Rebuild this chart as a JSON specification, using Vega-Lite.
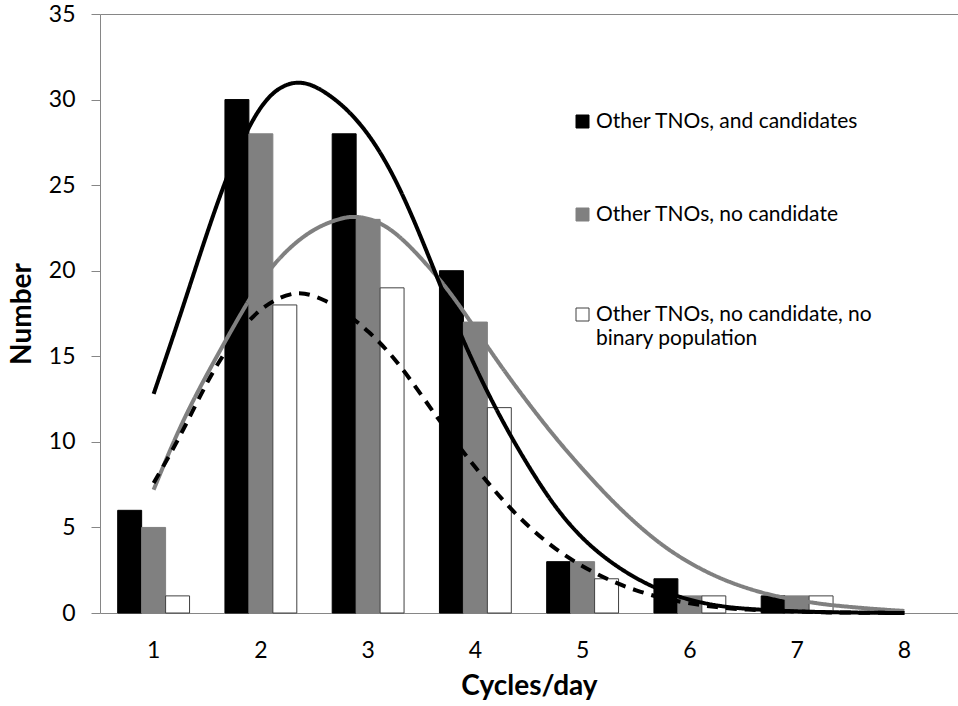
{
  "$schema": "https://vega.github.io/schema/vega-lite/v6.json",
  "width": 858,
  "height": 599,
  "autosize": {"type": "none"},
  "padding": {"left": 100, "top": 14, "right": 0, "bottom": 93},
  "background": "white",
  "config": {
    "view": {"stroke": null},
    "font": "Lato",
    "axis": {"labelFont": "Lato", "titleFont": "Lato", "labelColor": "#000000", "titleColor": "#000000", "grid": false}
  },
  "datasets": {
    "bars": [
      {"cycles": 1, "series": "Other TNOs, and candidates", "number": 6},
      {"cycles": 1, "series": "Other TNOs, no candidate", "number": 5},
      {"cycles": 1, "series": "Other TNOs, no candidate, no binary population", "number": 1},
      {"cycles": 2, "series": "Other TNOs, and candidates", "number": 30},
      {"cycles": 2, "series": "Other TNOs, no candidate", "number": 28},
      {"cycles": 2, "series": "Other TNOs, no candidate, no binary population", "number": 18},
      {"cycles": 3, "series": "Other TNOs, and candidates", "number": 28},
      {"cycles": 3, "series": "Other TNOs, no candidate", "number": 23},
      {"cycles": 3, "series": "Other TNOs, no candidate, no binary population", "number": 19},
      {"cycles": 4, "series": "Other TNOs, and candidates", "number": 20},
      {"cycles": 4, "series": "Other TNOs, no candidate", "number": 17},
      {"cycles": 4, "series": "Other TNOs, no candidate, no binary population", "number": 12},
      {"cycles": 5, "series": "Other TNOs, and candidates", "number": 3},
      {"cycles": 5, "series": "Other TNOs, no candidate", "number": 3},
      {"cycles": 5, "series": "Other TNOs, no candidate, no binary population", "number": 2},
      {"cycles": 6, "series": "Other TNOs, and candidates", "number": 2},
      {"cycles": 6, "series": "Other TNOs, no candidate", "number": 1},
      {"cycles": 6, "series": "Other TNOs, no candidate, no binary population", "number": 1},
      {"cycles": 7, "series": "Other TNOs, and candidates", "number": 1},
      {"cycles": 7, "series": "Other TNOs, no candidate", "number": 1},
      {"cycles": 7, "series": "Other TNOs, no candidate, no binary population", "number": 1}
    ],
    "fits": [
      {"curve": "gray", "cyc": 1.0, "number": 7.2},
      {"curve": "gray", "cyc": 1.25, "number": 11.0},
      {"curve": "gray", "cyc": 1.5, "number": 14.0},
      {"curve": "gray", "cyc": 1.75, "number": 16.8},
      {"curve": "gray", "cyc": 2.0, "number": 19.5},
      {"curve": "gray", "cyc": 2.25, "number": 21.3},
      {"curve": "gray", "cyc": 2.5, "number": 22.5},
      {"curve": "gray", "cyc": 2.75, "number": 23.1},
      {"curve": "gray", "cyc": 2.9, "number": 23.2},
      {"curve": "gray", "cyc": 3.1, "number": 22.9},
      {"curve": "gray", "cyc": 3.3, "number": 22.0},
      {"curve": "gray", "cyc": 3.5, "number": 20.7},
      {"curve": "gray", "cyc": 3.75, "number": 18.9},
      {"curve": "gray", "cyc": 4.0, "number": 16.6},
      {"curve": "gray", "cyc": 4.25, "number": 14.3},
      {"curve": "gray", "cyc": 4.5, "number": 12.2},
      {"curve": "gray", "cyc": 4.75, "number": 10.2},
      {"curve": "gray", "cyc": 5.0, "number": 8.4},
      {"curve": "gray", "cyc": 5.25, "number": 6.7},
      {"curve": "gray", "cyc": 5.5, "number": 5.2},
      {"curve": "gray", "cyc": 5.75, "number": 3.9},
      {"curve": "gray", "cyc": 6.0, "number": 2.9},
      {"curve": "gray", "cyc": 6.25, "number": 2.1},
      {"curve": "gray", "cyc": 6.5, "number": 1.5},
      {"curve": "gray", "cyc": 6.75, "number": 1.05},
      {"curve": "gray", "cyc": 7.0, "number": 0.75},
      {"curve": "gray", "cyc": 7.25, "number": 0.5},
      {"curve": "gray", "cyc": 7.5, "number": 0.35},
      {"curve": "gray", "cyc": 7.75, "number": 0.22},
      {"curve": "gray", "cyc": 8.0, "number": 0.12},
      {"curve": "dashed", "cyc": 1.0, "number": 7.6},
      {"curve": "dashed", "cyc": 1.25, "number": 10.3},
      {"curve": "dashed", "cyc": 1.5, "number": 13.6},
      {"curve": "dashed", "cyc": 1.75, "number": 16.1},
      {"curve": "dashed", "cyc": 2.0, "number": 17.9},
      {"curve": "dashed", "cyc": 2.25, "number": 18.65},
      {"curve": "dashed", "cyc": 2.4, "number": 18.75},
      {"curve": "dashed", "cyc": 2.6, "number": 18.3},
      {"curve": "dashed", "cyc": 2.8, "number": 17.5},
      {"curve": "dashed", "cyc": 3.0, "number": 16.5},
      {"curve": "dashed", "cyc": 3.25, "number": 14.9},
      {"curve": "dashed", "cyc": 3.5, "number": 12.7},
      {"curve": "dashed", "cyc": 3.75, "number": 10.5},
      {"curve": "dashed", "cyc": 4.0, "number": 8.5},
      {"curve": "dashed", "cyc": 4.25, "number": 6.6},
      {"curve": "dashed", "cyc": 4.5, "number": 5.0},
      {"curve": "dashed", "cyc": 4.75, "number": 3.7},
      {"curve": "dashed", "cyc": 5.0, "number": 2.7},
      {"curve": "dashed", "cyc": 5.25, "number": 1.9},
      {"curve": "dashed", "cyc": 5.5, "number": 1.3},
      {"curve": "dashed", "cyc": 5.75, "number": 0.85},
      {"curve": "dashed", "cyc": 6.0, "number": 0.55},
      {"curve": "dashed", "cyc": 6.25, "number": 0.33},
      {"curve": "dashed", "cyc": 6.5, "number": 0.2},
      {"curve": "dashed", "cyc": 7.0, "number": 0.06},
      {"curve": "dashed", "cyc": 7.5, "number": 0.02},
      {"curve": "dashed", "cyc": 8.0, "number": 0.0},
      {"curve": "black", "cyc": 1.0, "number": 12.8},
      {"curve": "black", "cyc": 1.25, "number": 17.4},
      {"curve": "black", "cyc": 1.5, "number": 22.3},
      {"curve": "black", "cyc": 1.75, "number": 26.7},
      {"curve": "black", "cyc": 2.0, "number": 29.8},
      {"curve": "black", "cyc": 2.2, "number": 30.85},
      {"curve": "black", "cyc": 2.35, "number": 31.05},
      {"curve": "black", "cyc": 2.5, "number": 30.85},
      {"curve": "black", "cyc": 2.75, "number": 29.8},
      {"curve": "black", "cyc": 3.0, "number": 28.1},
      {"curve": "black", "cyc": 3.25, "number": 25.5},
      {"curve": "black", "cyc": 3.5, "number": 21.9},
      {"curve": "black", "cyc": 3.75, "number": 17.9},
      {"curve": "black", "cyc": 4.0, "number": 14.3},
      {"curve": "black", "cyc": 4.25, "number": 11.2},
      {"curve": "black", "cyc": 4.5, "number": 8.5},
      {"curve": "black", "cyc": 4.75, "number": 6.1},
      {"curve": "black", "cyc": 5.0, "number": 4.3},
      {"curve": "black", "cyc": 5.25, "number": 3.0},
      {"curve": "black", "cyc": 5.5, "number": 2.0},
      {"curve": "black", "cyc": 5.75, "number": 1.25},
      {"curve": "black", "cyc": 6.0, "number": 0.75},
      {"curve": "black", "cyc": 6.25, "number": 0.42},
      {"curve": "black", "cyc": 6.5, "number": 0.24},
      {"curve": "black", "cyc": 7.0, "number": 0.08},
      {"curve": "black", "cyc": 7.5, "number": 0.02},
      {"curve": "black", "cyc": 8.0, "number": 0.0}
    ]
  },
  "layer": [
    {
      "data": {"name": "bars"},
      "mark": {"type": "bar", "strokeWidth": 1},
      "encoding": {
        "x": {
          "field": "cycles", "type": "ordinal",
          "scale": {"domain": [1, 2, 3, 4, 5, 6, 7, 8], "paddingInner": 0.33, "paddingOuter": 0.165},
          "axis": {
            "labelAngle": 0, "labelFontSize": 23, "labelPadding": 26,
            "ticks": false, "tickSize": 0,
            "domainColor": "#868686", "domainWidth": 1,
            "title": "Cycles/day", "titleFontSize": 28, "titleFontWeight": "bold",
            "titleBaseline": "alphabetic", "titleY": 81
          }
        },
        "xOffset": {
          "field": "series", "type": "nominal",
          "scale": {"domain": ["Other TNOs, and candidates", "Other TNOs, no candidate", "Other TNOs, no candidate, no binary population"], "paddingInner": 0, "paddingOuter": 0}
        },
        "y": {
          "field": "number", "type": "quantitative",
          "scale": {"domain": [0, 35], "nice": false},
          "axis": {
            "values": [0, 5, 10, 15, 20, 25, 30, 35],
            "tickSize": 9, "tickColor": "#868686", "domainColor": "#868686", "domainWidth": 1,
            "labelFontSize": 23, "labelPadding": 16,
            "title": "Number", "titleFontSize": 28, "titleFontWeight": "bold",
            "titleBaseline": "middle", "titleX": -78, "titleY": 299.5
          }
        },
        "fill": {
          "field": "series", "type": "nominal",
          "scale": {"domain": ["Other TNOs, and candidates", "Other TNOs, no candidate", "Other TNOs, no candidate, no binary population"], "range": ["#000000", "#808080", "#ffffff"]},
          "legend": {
            "orient": "none", "legendX": 472, "legendY": 97, "direction": "vertical",
            "title": null, "padding": 0,
            "symbolType": "square", "symbolSize": 169, "symbolStrokeWidth": 1,
            "labelFont": "Lato", "labelFontSize": 21, "labelColor": "#000000", "labelOffset": 3, "labelLimit": 400,
            "rowPadding": 71,
            "labelExpr": "datum.value == 'Other TNOs, no candidate, no binary population' ? ['Other TNOs, no candidate, no', 'binary population'] : datum.value == 'Other TNOs, no candidate' ? ['Other TNOs, no candidate', ' '] : datum.label",
            "encode": {"labels": {"update": {"baseline": {"value": "top"}, "dy": {"value": -11}, "lineHeight": {"signal": "datum.value == 'Other TNOs, no candidate' ? 7 : 24"}}}}
          }
        },
        "stroke": {
          "field": "series", "type": "nominal",
          "scale": {"domain": ["Other TNOs, and candidates", "Other TNOs, no candidate", "Other TNOs, no candidate, no binary population"], "range": ["#000000", "#808080", "#404040"]},
          "legend": {
            "orient": "none", "legendX": 472, "legendY": 97, "direction": "vertical",
            "title": null, "padding": 0,
            "symbolType": "square", "symbolSize": 169, "symbolStrokeWidth": 1,
            "labelFont": "Lato", "labelFontSize": 21, "labelColor": "#000000", "labelOffset": 3, "labelLimit": 400,
            "rowPadding": 71,
            "labelExpr": "datum.value == 'Other TNOs, no candidate, no binary population' ? ['Other TNOs, no candidate, no', 'binary population'] : datum.value == 'Other TNOs, no candidate' ? ['Other TNOs, no candidate', ' '] : datum.label",
            "encode": {"labels": {"update": {"baseline": {"value": "top"}, "dy": {"value": -11}, "lineHeight": {"signal": "datum.value == 'Other TNOs, no candidate' ? 7 : 24"}}}}
          }
        }
      }
    },
    {
      "data": {"name": "fits"},
      "mark": {"type": "line", "interpolate": "basis", "strokeWidth": 4},
      "encoding": {
        "x": {
          "field": "cyc", "type": "quantitative",
          "scale": {"domain": [0.5, 8.5], "nice": false, "zero": false},
          "axis": {"orient": "top", "labels": false, "ticks": false, "title": null, "domainColor": "#868686", "domainWidth": 1}
        },
        "y": {"field": "number", "type": "quantitative"},
        "color": {
          "field": "curve", "type": "nominal",
          "scale": {"domain": ["gray", "dashed", "black"], "range": ["#808080", "#000000", "#000000"]},
          "legend": null
        },
        "strokeDash": {
          "field": "curve", "type": "nominal",
          "scale": {"domain": ["gray", "dashed", "black"], "range": [[1, 0], [11, 8], [1, 0]]},
          "legend": null
        }
      }
    }
  ],
  "resolve": {"scale": {"x": "independent"}, "axis": {"x": "independent"}}
}
